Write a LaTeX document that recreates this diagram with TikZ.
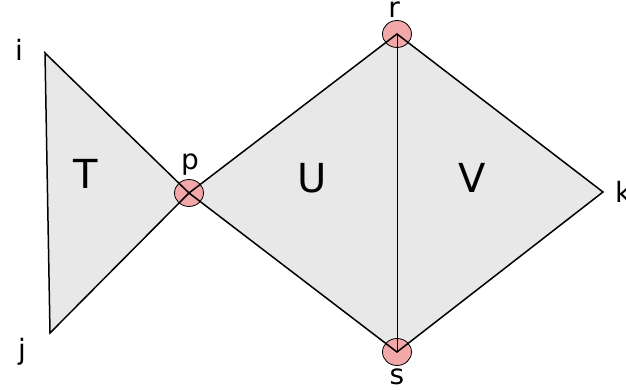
\documentclass[tikz,border=0pt]{standalone}
\usepackage{fontspec}
\setmainfont{DejaVu Sans}
\usepackage{tikz}
\usetikzlibrary{shapes.geometric, backgrounds}
\definecolor{fsFace}{HTML}{E8E8E8}
\definecolor{fsVertex}{HTML}{F2A7A9}
\tikzset{
  fs-face/.style={fill=fsFace, draw=none},
  fs-edge/.style={draw=black, line width=1.5pt, line join=miter},
  fs-inner/.style={draw=black, line width=1pt},
  fs-vertex/.style={
    ellipse, draw=black, fill=fsVertex, line width=0.8pt,
    minimum width=29pt, minimum height=27pt, inner sep=0pt
  },
  fs-label/.style={anchor=base, inner sep=0pt, font=\fontsize{28}{34}\selectfont},
  fs-name/.style={anchor=base, inner sep=0pt, font=\fontsize{40}{48}\selectfont},
}

\begin{document}
\begin{tikzpicture}[x=1pt, y=-1pt]
  \useasboundingbox (0,0) rectangle (626,390);
  \fill[white] (0,0) rectangle (626,390);

  % corners of the three faces
  \coordinate (i) at (45,53);
  \coordinate (j) at (50,333);
  \coordinate (k) at (603,192);
  \coordinate (p) at (189,193);
  \coordinate (r) at (397,34);
  \coordinate (s) at (397,352);

  % faces
  \path[fs-face] (i) -- (p) -- (j) -- cycle;
  \path[fs-face] (p) -- (r) -- (k) -- (s) -- cycle;

  % marked vertices
  \node[fs-vertex] (pv) at (p) {};
  \node[fs-vertex] (rv) at (r) {};
  \node[fs-vertex] (sv) at (s) {};

  % edges
  \draw[fs-edge] (i) -- (pv.center) -- (j) -- cycle;
  \draw[fs-edge] (pv.center) -- (rv.center) -- (k) -- (sv.center) -- cycle;
  \draw[fs-inner] (rv.center) -- (sv.center);

  % vertex labels
  \node[fs-label] (li) at (19,61) {i};
  \node[fs-label] (lj) at (22,359) {j};
  \node[fs-label] (lp) at (190,170) {p};
  \node[fs-label] (lr) at (394,18) {r};
  \node[fs-label] (ls) at (397,384) {s};
  \node[fs-label, anchor=base west] (lk) at (615,203) {k};

  % face labels
  \node[fs-name] (lT) at (86,189) {T};
  \node[fs-name] (lU) at (312,193) {U};
  \node[fs-name] (lV) at (472,193) {V};
\end{tikzpicture}
\end{document}
